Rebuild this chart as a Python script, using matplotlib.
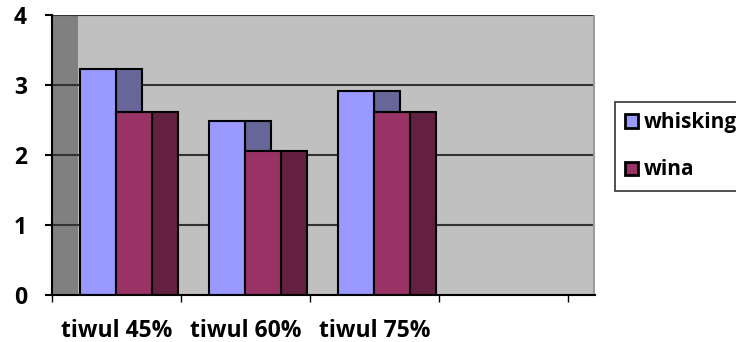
import matplotlib
matplotlib.use('Agg')
import matplotlib.pyplot as plt
from matplotlib.patches import Rectangle, Patch

categories = ['tiwul 45%', 'tiwul 60%', 'tiwul 75%']
whisking = [3.23, 2.49, 2.92]
wina = [2.61, 2.06, 2.61]

plt.rcParams['font.family'] = ['Open Sans', 'DejaVu Sans']
plt.rcParams['font.weight'] = 'bold'

front_w = 0.28
depth = 0.2
start = 0.217
n_slots = 4

fig = plt.figure(figsize=(7.36, 3.42), dpi=100)
ax = fig.add_axes([52 / 736, 47 / 342, 543 / 736, 280 / 342])
ax.set_xlim(0, n_slots + depth + 0.01)
ax.set_ylim(0, 4)

# walls: dark side wall at left, grey back wall
ax.add_patch(Rectangle((0, 0), depth, 4, facecolor='#808080', edgecolor='none', zorder=0))
ax.add_patch(Rectangle((depth, 0), n_slots, 4, facecolor='#c0c0c0', edgecolor='none', zorder=0))
for y in [1, 2, 3, 4]:
    ax.axhline(y, color='#333333', lw=1.5, zorder=1)
ax.axvline(n_slots + depth, color='#9a9a9a', lw=1.5, zorder=1)

x = list(range(len(categories)))
xs_wh = [i + start for i in x]
xs_wi = [i + start + front_w for i in x]

# side faces first, front faces on top
ax.bar([v + front_w for v in xs_wh], whisking, width=depth, align='edge',
       color='#666699', edgecolor='black', lw=1.5, zorder=2)
ax.bar([v + front_w for v in xs_wi], wina, width=depth, align='edge',
       color='#632040', edgecolor='black', lw=1.5, zorder=2)
ax.bar(xs_wh, whisking, width=front_w, align='edge',
       color='#9999ff', edgecolor='black', lw=1.5, zorder=3)
ax.bar(xs_wi, wina, width=front_w, align='edge',
       color='#993366', edgecolor='black', lw=1.5, zorder=3)

for s in ['top', 'right']:
    ax.spines[s].set_visible(False)
ax.spines['left'].set_linewidth(1.5)
ax.spines['bottom'].set_linewidth(1.5)
ax.spines['bottom'].set_zorder(4)

ax.set_yticks([0, 1, 2, 3, 4])
ax.set_yticklabels(['0', '1', '2', '3', '4'], fontweight='bold')
ax.set_xticks(range(n_slots + 1))
ax.set_xticklabels([])
ax.set_xticks([i + 0.5 for i in x], labels=categories, minor=True, fontweight='bold')
ax.tick_params(axis='x', which='major', length=5, width=1, direction='out')
ax.tick_params(axis='x', which='minor', length=0, pad=17.5, labelsize=16.5)
ax.tick_params(axis='y', length=5, width=1.5, pad=13, labelsize=16.5)

handles = [Patch(facecolor='#9999ff', edgecolor='black', lw=2),
           Patch(facecolor='#993366', edgecolor='black', lw=2)]
leg = fig.legend(handles, ['whisking', 'wina'], loc='upper left',
                 bbox_to_anchor=(615 / 736, 1 - 102 / 342),
                 prop={'size': 15, 'weight': 'bold'},
                 frameon=True, fancybox=False, handlelength=0.6, handleheight=0.6,
                 handletextpad=0.3, labelspacing=1.25, borderpad=0.5, borderaxespad=0)
leg.get_frame().set_edgecolor('black')
leg.get_frame().set_linewidth(1.2)

fig.savefig('out.png', dpi=100)
